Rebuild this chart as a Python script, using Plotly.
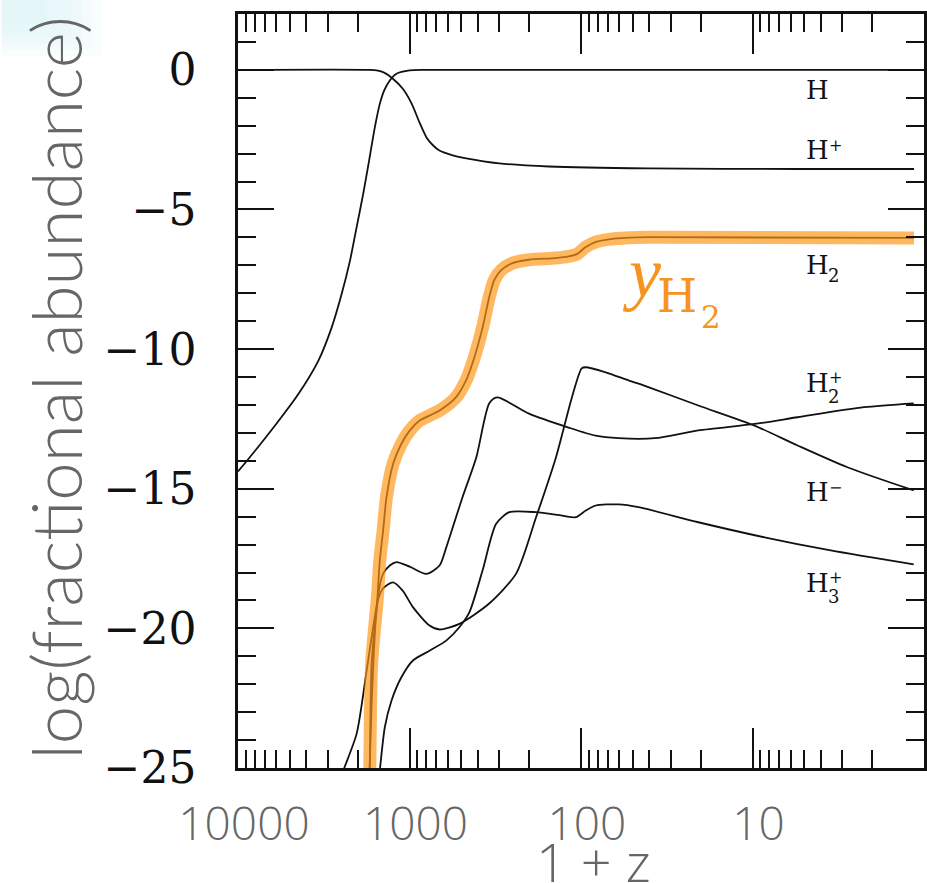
import plotly.graph_objects as go

# Redshift grid (1 + z) and log10 fractional abundance for each species
h_z = [10000, 8843, 6194, 4436, 3397, 2842, 2485, 2223, 2033, 1862, 1719, 1592,
       1489, 1406, 1303, 1191, 998, 817, 1.143]
h_y = [-14.38, -13.99, -12.80, -11.60, -10.41, -9.22, -8.02, -6.83, -5.63, -4.44,
       -3.24, -2.05, -1.21, -0.74, -0.38, -0.14, -0.02, 0.0, 0.0]

hp_z = [10000, 1702, 1552, 1396, 1254, 1097, 973, 875, 796, 730, 669, 560, 467,
        300, 154, 40.5, 5.46, 1.143]
hp_y = [0.0, 0.0, -0.02, -0.11, -0.31, -0.67, -1.2, -1.88, -2.42, -2.70, -2.89,
        -3.06, -3.17, -3.35, -3.46, -3.53, -3.55, -3.55]

h2_z = [1714, 1702, 1663, 1538, 1490, 1425, 1362, 1247, 1115, 998, 873, 668, 535,
        468, 428, 375, 343, 321, 293, 251, 201, 141, 118, 105, 94.2, 82.4, 69.0,
        52.8, 40.5, 1.143]
h2_y = [-26.0, -24.73, -21.27, -18.89, -17.57, -16.50, -15.30, -14.11, -13.39,
        -12.92, -12.56, -12.20, -11.72, -11.12, -10.48, -9.23, -8.14, -7.54, -7.18,
        -6.92, -6.80, -6.74, -6.68, -6.59, -6.35, -6.17, -6.07, -6.01, -5.99, -6.02]

hm_z = [2541, 2431, 2033, 1778, 1629, 1531, 1426, 1247, 1096, 955, 764, 668, 512,
        343, 239, 183, 140, 113, 99.1, 93.8, 71.8, 52.8, 40.5, 20.7, 9.73, 5.46,
        2.80, 1.148]
hm_y = [-25.45, -25.09, -23.77, -21.51, -19.96, -19.00, -18.57, -18.35, -18.65,
        -19.24, -19.90, -20.04, -19.84, -19.11, -18.04, -16.03, -13.88, -11.73,
        -10.69, -10.65, -10.83, -11.12, -11.36, -12.02, -12.74, -13.45, -14.23,
        -15.06]

h2p_z = [1726, 1660, 1574, 1490, 1426, 1303, 1191, 998, 798, 668, 611, 492, 408,
         343, 308, 201, 118, 82.2, 60.4, 37.0, 20.7, 9.73, 5.46, 2.24, 1.148]
h2p_y = [-25.81, -22.59, -19.72, -18.46, -18.05, -17.75, -17.63, -17.79, -18.05,
         -17.75, -17.11, -15.32, -13.88, -11.95, -11.73, -12.31, -12.81, -13.10,
         -13.19, -13.19, -12.91, -12.68, -12.44, -12.08, -11.94]

h3p_z = [1531, 1490, 1393, 1274, 1115, 955, 764, 611, 512, 448, 375, 313, 262, 183,
         129, 107, 93.8, 82.0, 60.4, 46.2, 20.7, 8.51, 3.50, 1.148]
h3p_y = [-25.81, -25.09, -23.54, -22.59, -21.75, -21.15, -20.80, -20.44, -19.96,
         -19.43, -17.93, -16.26, -15.84, -15.84, -15.96, -16.02, -15.78, -15.60,
         -15.56, -15.66, -16.20, -16.74, -17.21, -17.71]

x_major = [10000, 1000, 100, 10]
x_major_text = ["10000", "1000", "100", "10"]
x_minor = [k * d for d in (1, 10, 100, 1000) for k in range(2, 10)]
y_major = [0, -5, -10, -15, -20, -25]
y_major_text = ["0", "\u22125", "\u221210", "\u221215", "\u221220", "\u221225"]

# Plot-area geometry in pixels, used to place free text
W, H = 927, 883
L, R, T, B = 237.5, 0, 14, 115
PW, PH = W - L - R, H - T - B


def px(x):
    return (x - L) / PW


def py(y):
    return (H - B - y) / PH


BLACK = "#111111"
GRAY = "#666666"
SANS = "Open Sans"
ORANGE_BAND = "rgba(255,150,20,0.68)"
ORANGE_TEXT = "#f7941d"

fig = go.Figure()

line_kw = dict(mode="lines", line=dict(color=BLACK, width=1.8, shape="spline",
                                       smoothing=0.7),
               hoverinfo="skip", showlegend=False)

for xs, ys in [(h_z, h_y), (hp_z, hp_y), (hm_z, hm_y), (h2p_z, h2p_y),
               (h3p_z, h3p_y), (h2_z, h2_y)]:
    fig.add_trace(go.Scatter(x=xs, y=ys, **line_kw))

# Highlight band over the H2 curve
fig.add_trace(go.Scatter(x=h2_z, y=h2_y, mode="lines",
                         line=dict(color=ORANGE_BAND, width=13, shape="spline",
                                   smoothing=0.7),
                         hoverinfo="skip", showlegend=False))

annotations = []

# Species labels at the right-hand side
lab_font = dict(family="DejaVu Serif", size=26, color=BLACK)
small_font = dict(family="DejaVu Serif", size=16, color=BLACK)
digit_font = dict(family="DejaVu Serif", size=18, color=BLACK)
species = [
    # (y centre of "H", superscript, sup y, subscript, sub y)
    (90.5, None, None, None, None),
    (149.5, "+", 145.5, None, None),
    (265.0, None, None, "2", 276.0),
    (382.5, "+", 377.5, "2", 396.5),
    (491.5, "\u2212", 487.0, None, None),
    (582.5, "+", 577.5, "3", 596.0),
]
for yc, sup, ysup, sub, ysub in species:
    annotations.append(dict(text="H", x=px(806), y=py(yc), xref="paper",
                            yref="paper", xanchor="left", yanchor="middle",
                            showarrow=False, font=lab_font))
    if sup:
        annotations.append(dict(text=sup, x=px(830), y=py(ysup), xref="paper",
                                yref="paper", xanchor="left", yanchor="middle",
                                showarrow=False, font=small_font))
    if sub:
        annotations.append(dict(text=sub, x=px(829), y=py(ysub), xref="paper",
                                yref="paper", xanchor="left", yanchor="middle",
                                showarrow=False, font=digit_font))

# Orange y_H2 label
annotations += [
    dict(text="y", x=px(621), y=py(273), xref="paper", yref="paper",
         xanchor="left", yanchor="middle", showarrow=False,
         font=dict(family="Liberation Serif", size=72, color=ORANGE_TEXT,
                   style="italic")),
    dict(text="H", x=px(657), y=py(296), xref="paper", yref="paper",
         xanchor="left", yanchor="middle", showarrow=False,
         font=dict(family="DejaVu Serif", size=46, color=ORANGE_TEXT)),
    dict(text="2", x=px(701), y=py(317), xref="paper", yref="paper",
         xanchor="left", yanchor="middle", showarrow=False,
         font=dict(family="DejaVu Serif", size=31, color=ORANGE_TEXT)),
]

# Axis titles
annotations += [
    dict(text="1 + z", x=px(595), y=py(861), xref="paper", yref="paper",
         xanchor="center", yanchor="middle", showarrow=False,
         font=dict(family=SANS, size=54, color=GRAY, weight=300)),
    dict(text="log(fractional abundance)", x=px(54), y=py(388), xref="paper",
         yref="paper", xanchor="center", yanchor="middle", textangle=-90,
         showarrow=False, font=dict(family="Lato", size=69, color=GRAY, weight=300)),
]

# Soft tint in the upper-left corner
shapes = []
for (w, h) in [(100, 56), (90, 50), (80, 44), (70, 38), (58, 32), (45, 25)]:
    shapes.append(dict(type="rect", xref="paper", yref="paper", x0=px(0),
                       x1=px(w), y0=py(h), y1=py(0), line=dict(width=0),
                       fillcolor="#d9f0f7", opacity=0.16, layer="below"))

fig.update_layout(
    width=W, height=H,
    margin=dict(l=L, r=R, t=T, b=B, pad=0),
    paper_bgcolor="white", plot_bgcolor="white",
    annotations=annotations, shapes=shapes,
    xaxis=dict(
        type="log", range=[4, 0], tickmode="array", tickvals=x_major,
        ticktext=x_major_text, ticks="inside", ticklen=40, tickwidth=1.6,
        tickcolor=BLACK, showline=True, linewidth=2.6, linecolor=BLACK,
        mirror="allticks", showgrid=False, zeroline=False,
        tickfont=dict(family=SANS, size=46, color=GRAY, weight=300),
        ticklabelstandoff=14, ticklabelshift=-6,
        minor=dict(tickmode="array", tickvals=x_minor, ticks="inside",
                   ticklen=18, tickwidth=1.6, tickcolor=BLACK, showgrid=False),
    ),
    yaxis=dict(
        range=[-25, 2], tickmode="array", tickvals=y_major, ticktext=y_major_text,
        ticks="inside", ticklen=36, tickwidth=1.6, tickcolor=BLACK,
        showline=True, linewidth=2.6, linecolor=BLACK, mirror="allticks",
        showgrid=False, zeroline=False,
        tickfont=dict(family="DejaVu Serif", size=44, color=BLACK),
        ticklabelstandoff=30,
        minor=dict(dtick=1, tick0=0, ticks="inside", ticklen=18, tickwidth=1.6,
                   tickcolor=BLACK, showgrid=False),
    ),
)

fig.write_html("out.html")
